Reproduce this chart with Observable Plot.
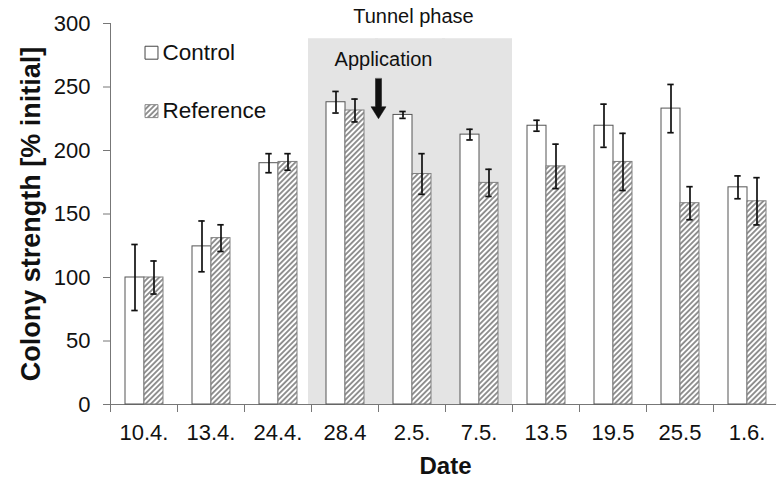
<!DOCTYPE html>
<html>
<head>
<meta charset="utf-8">
<script src="https://cdn.jsdelivr.net/npm/d3@7"></script>
<script src="https://cdn.jsdelivr.net/npm/@observablehq/plot@0.6"></script>
<style>
  body { margin: 0; background: #fff; }
  #chart { position: relative; width: 776px; height: 480px; overflow: hidden; }
</style>
</head>
<body>
<svg width="0" height="0" style="position:absolute">
  <defs>
    <pattern id="hatch" patternUnits="userSpaceOnUse" width="3.8" height="3.8" patternTransform="rotate(45)">
      <rect width="3.8" height="3.8" fill="white"></rect>
      <line x1="1.9" y1="0" x2="1.9" y2="3.8" stroke="#666" stroke-width="1.4"></line>
    </pattern>
  </defs>
</svg>
<div id="chart"></div>
<script>
// ---- data ----
const dates = ["10.4.", "13.4.", "24.4.", "28.4", "2.5.", "7.5.", "13.5", "19.5", "25.5", "1.6."];
const seriesNames = ["Control", "Reference"];
const control = [100, 124.5, 190, 238, 228, 212.5, 219.5, 219.5, 233, 171];
const controlErr = [26, 20, 7.5, 8.5, 2.7, 4.2, 4.3, 17, 19, 9];
const reference = [100, 131, 191, 231.5, 181.5, 174.5, 187.5, 191, 158.5, 160];
const referenceErr = [13, 10.5, 6.5, 9, 16, 10.7, 17.5, 22.5, 13, 18.6];
const yTicks = [0, 50, 100, 150, 200, 250, 300];
const tunnelDates = ["28.4", "2.5.", "7.5."];
const tunnelTop = 288;
const tunnelLabel = "Tunnel phase";
const applicationLabel = "Application";
const yTitle = "Colony strength [% initial]";
const xTitle = "Date";

const rows = dates.flatMap((d, i) => [
  {date: d, series: seriesNames[0], value: control[i], err: controlErr[i]},
  {date: d, series: seriesNames[1], value: reference[i], err: referenceErr[i]}
]);
const ctrlRows = rows.filter(r => r.series === seriesNames[0]);
const refRows = rows.filter(r => r.series === seriesNames[1]);

const font = "'Liberation Sans', Arial, Helvetica, sans-serif";

const blockArrow = {
  draw(context, l) {
    const hw = 7.5, sw = 3, hl = 12;
    context.moveTo(-sw, 0);
    context.lineTo(-sw, -(l - hl));
    context.lineTo(-hw, -(l - hl));
    context.lineTo(0, -l);
    context.lineTo(hw, -(l - hl));
    context.lineTo(sw, -(l - hl));
    context.lineTo(sw, 0);
    context.closePath();
  }
};

const chart = Plot.plot({
  width: 776,
  height: 480,
  marginTop: 23,
  marginBottom: 76,
  marginLeft: 106,
  marginRight: -8,
  style: {fontFamily: font, fontSize: "22px", color: "#111", background: "white", overflow: "visible"},
  fx: {domain: dates, padding: 0},
  x: {domain: seriesNames, paddingInner: 0, paddingOuter: 0.74, axis: null},
  y: {domain: [0, 300]},
  marks: [
    Plot.rect(tunnelDates, {fx: d => d, y1: 0, y2: tunnelTop, fill: "#e4e4e4", insetLeft: -3}),
    Plot.ruleY([0], {stroke: "#777", strokeWidth: 1}),
    Plot.barY(ctrlRows, {fx: "date", x: "series", y: "value", fill: "white", stroke: "#555", strokeWidth: 1}),
    Plot.barY(refRows, {fx: "date", x: "series", y: "value", fill: "url(#hatch)", stroke: "#808080", strokeWidth: 1}),
    Plot.ruleX(rows, {fx: "date", x: "series", y1: d => d.value - d.err, y2: d => d.value + d.err, stroke: "#111", strokeWidth: 1.7}),
    Plot.tickY(rows, {fx: "date", x: "series", y: d => d.value - d.err, stroke: "#111", strokeWidth: 1.7, insetLeft: 6.3, insetRight: 6.3}),
    Plot.tickY(rows, {fx: "date", x: "series", y: d => d.value + d.err, stroke: "#111", strokeWidth: 1.7, insetLeft: 6.3, insetRight: 6.3}),
    Plot.axisY({ticks: yTicks, tickSize: 7, tickPadding: 13, stroke: "#777", fill: "#111", label: null, fontSize: 22}),
    Plot.axisFx({anchor: "bottom", tickSize: 0, tickPadding: 20, label: null, fontSize: 22, fill: "#111"}),
    // annotations
    Plot.text([tunnelLabel], {fx: () => "2.5.", frameAnchor: "top", textAnchor: "middle", dx: 1.5, dy: -1, lineAnchor: "bottom", fontSize: 20, fill: "#111"}),
    Plot.text([applicationLabel], {fx: () => "2.5.", frameAnchor: "left", textAnchor: "middle", y: 266.5, dx: 5, lineAnchor: "bottom", fontSize: 20, fill: "#111"}),
    Plot.vector([applicationLabel], {fx: () => "2.5.", frameAnchor: "left", y: 256.5, length: 40, rotate: 180, anchor: "start", shape: blockArrow, fill: "#111", stroke: "#111", strokeWidth: 0.5}),
    // legend
    Plot.dot([seriesNames[0]], {fx: () => dates[0], frameAnchor: "left", y: 277, dx: 41, symbol: "square", r: 7.3, fill: "white", stroke: "#444", strokeWidth: 1}),
    Plot.dot([seriesNames[1]], {fx: () => dates[0], frameAnchor: "left", y: 231, dx: 41, symbol: "square", r: 7.3, fill: "url(#hatch)", stroke: "#888", strokeWidth: 1}),
    Plot.text([seriesNames[0]], {fx: () => dates[0], frameAnchor: "left", y: 277, dx: 52, textAnchor: "start", fontSize: 22.5, fill: "#111"}),
    Plot.text([seriesNames[1]], {fx: () => dates[0], frameAnchor: "left", y: 231, dx: 52, textAnchor: "start", fontSize: 22.5, fill: "#111"}),
    // axis titles
    Plot.text([yTitle], {fx: () => dates[0], frameAnchor: "left", textAnchor: "middle", rotate: -90, dx: -71, lineAnchor: "bottom", fontSize: 27, fontWeight: "bold", fill: "#111"}),
    Plot.text([xTitle], {fx: () => "7.5.", frameAnchor: "bottom-left", textAnchor: "middle", dy: 69, lineAnchor: "bottom", fontSize: 24, fontWeight: "bold", fill: "#111"})
  ]
});

document.getElementById("chart").appendChild(chart);

// y-axis line and category boundary ticks, placed with the plot's own scales
(function () {
  const fxS = chart.scale("fx");
  const yS = chart.scale("y");
  const left = fxS.apply(dates[0]);
  const bw = fxS.bandwidth;
  const g = d3.select(chart).append("g").attr("stroke", "#777").attr("stroke-width", 1);
  g.append("line")
    .attr("x1", left + 0.5).attr("x2", left + 0.5)
    .attr("y1", yS.apply(300)).attr("y2", yS.apply(0));
  const edges = dates.map(d => fxS.apply(d)).concat([fxS.apply(dates[dates.length - 1]) + bw]);
  g.selectAll("line.edge").data(edges).join("line").attr("class", "edge")
    .attr("x1", d => d + 0.5).attr("x2", d => d + 0.5)
    .attr("y1", yS.apply(0)).attr("y2", yS.apply(0) + 8);
})();
</script>
</body>
</html>
